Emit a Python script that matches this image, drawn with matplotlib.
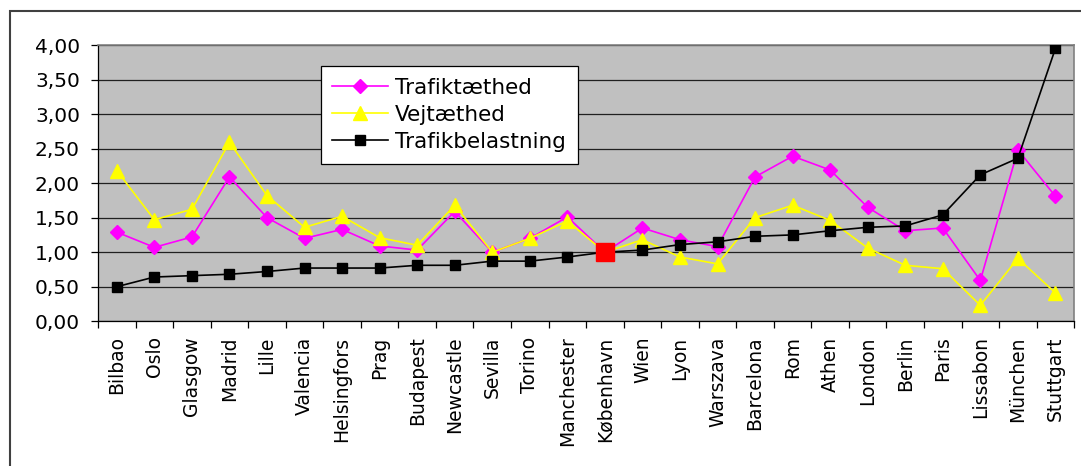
import matplotlib

matplotlib.use("Agg")
import matplotlib.pyplot as plt
from matplotlib.patches import Rectangle
from matplotlib.ticker import FuncFormatter, MultipleLocator

cities = [
    "Bilbao", "Oslo", "Glasgow", "Madrid", "Lille", "Valencia", "Helsingfors",
    "Prag", "Budapest", "Newcastle", "Sevilla", "Torino", "Manchester",
    "København", "Wien", "Lyon", "Warszava", "Barcelona", "Rom", "Athen",
    "London", "Berlin", "Paris", "Lissabon", "München", "Stuttgart",
]
trafiktaethed = [
    1.29, 1.07, 1.22, 2.09, 1.50, 1.20, 1.33, 1.09, 1.03, 1.59, 1.00, 1.20, 1.51,
    1.00, 1.35, 1.18, 1.08, 2.09, 2.39, 2.19, 1.65, 1.31, 1.35, 0.59, 2.48, 1.81,
]
vejtaethed = [
    2.18, 1.47, 1.62, 2.59, 1.82, 1.36, 1.52, 1.21, 1.10, 1.68, 1.00, 1.20, 1.45,
    1.00, 1.18, 0.93, 0.83, 1.50, 1.68, 1.46, 1.06, 0.81, 0.76, 0.23, 0.91, 0.41,
]
trafikbelastning = [
    0.50, 0.64, 0.66, 0.68, 0.72, 0.77, 0.77, 0.77, 0.81, 0.81, 0.87, 0.87, 0.93,
    1.00, 1.03, 1.11, 1.15, 1.23, 1.25, 1.31, 1.36, 1.38, 1.54, 2.12, 2.36, 3.95,
]
reference_city = "København"

fig = plt.figure(figsize=(10.81, 4.66), dpi=100)
ax = fig.add_axes([0.0907, 0.3107, 0.903, 0.5927])
ax.set_facecolor("#C0C0C0")

x = list(range(len(cities)))
ax.plot(x, trafiktaethed, color="#FF00FF", lw=1.2, marker="D", ms=7,
        mec="#FF00FF", label="Trafiktæthed", zorder=3)
ax.plot(x, vejtaethed, color="#FFFF00", lw=1.2, marker="^", ms=10,
        mec="#FFFF00", label="Vejtæthed", zorder=3)
ax.plot(x, trafikbelastning, color="black", lw=1.2, marker="s", ms=7.5,
        label="Trafikbelastning", zorder=4)

# highlight the reference city
ref = cities.index(reference_city)
ax.plot([ref], [trafikbelastning[ref]], marker="s", ms=12.5, color="#FF0000",
        mec="#FF0000", ls="none", zorder=5)

ax.set_xlim(-0.5, len(cities) - 0.5)
ax.set_ylim(0, 4)
ax.yaxis.set_major_locator(MultipleLocator(0.5))
ax.yaxis.set_major_formatter(FuncFormatter(lambda v, _: f"{v:.2f}".replace(".", ",")))
ax.grid(axis="y", color="#202020", lw=0.9, zorder=1)
ax.set_axisbelow(True)

ax.set_xticks(x)
ax.set_xticklabels(cities, rotation=90, fontsize=13.5)
ax.set_xticks([i - 0.5 for i in range(len(cities) + 1)], minor=True)
ax.tick_params(axis="x", which="major", length=0, pad=11)
ax.tick_params(axis="x", which="minor", length=5, width=0.9, direction="out")
ax.tick_params(axis="y", length=5, width=0.9, labelsize=14.5, pad=8)

for side in ("top", "right"):
    ax.spines[side].set_color("#808080")
    ax.spines[side].set_linewidth(1.2)
for side in ("left", "bottom"):
    ax.spines[side].set_color("black")
    ax.spines[side].set_linewidth(0.9)

leg = ax.legend(loc="upper left", bbox_to_anchor=(0.228, 0.925), fontsize=15.5,
                frameon=True, fancybox=False, framealpha=1, edgecolor="black",
                handlelength=2.6, handletextpad=0.3, borderpad=0.55,
                labelspacing=0.33, borderaxespad=0)
leg.get_frame().set_linewidth(0.9)

# outer chart border
fig.patches.append(Rectangle((10 / 1081, -0.05), 1.05, 1.05 - 11 / 466,
                             transform=fig.transFigure, fill=False,
                             edgecolor="#404040", lw=1.5, clip_on=False))

fig.savefig("out.png", dpi=100)
